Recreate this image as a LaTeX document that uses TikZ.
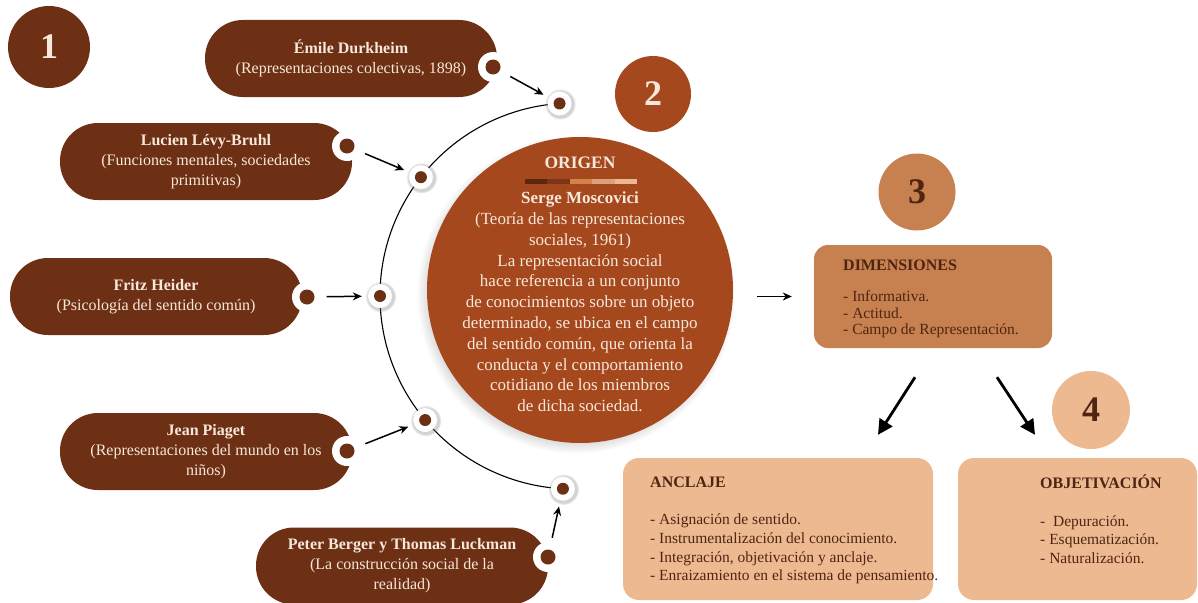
\documentclass[tikz,border=0pt]{standalone}
\usepackage{fontspec}
\setmainfont{Liberation Serif}
\usetikzlibrary{shadows,calc,arrows.meta}
\definecolor{dbrown}{HTML}{6E3014}
\definecolor{rust}{HTML}{A5481E}
\definecolor{midor}{HTML}{C7804F}
\definecolor{lightor}{HTML}{EDB991}
\definecolor{cream}{HTML}{F6E8DA}
\definecolor{darktxt}{HTML}{4F2512}
\definecolor{barA}{HTML}{5A2810}
\definecolor{barB}{HTML}{7E3517}
\definecolor{barC}{HTML}{D4824C}
\definecolor{barD}{HTML}{DDA07C}
\definecolor{barE}{HTML}{EBB892}
\begin{document}
\begin{tikzpicture}[x=1pt,y=-1pt,
  pill/.style={fill=dbrown, rounded corners=38pt, minimum width=292pt, minimum height=77pt,
     text=cream, align=center, inner sep=0pt, font=\fontsize{16}{20}\selectfont},
  notch/.style={circle, fill=white, minimum size=30pt, inner sep=0pt},
  pdot/.style={circle, fill=dbrown, minimum size=15pt, inner sep=0pt},
  adot/.style={circle, fill=white, minimum size=24pt, inner sep=0pt,
     circular drop shadow={shadow xshift=0.5pt, shadow yshift=-0.5pt, shadow scale=1.3, opacity=0.35}},
  adotin/.style={circle, fill=dbrown, minimum size=12pt, inner sep=0pt},
  numc/.style={circle, inner sep=0pt, font=\fontsize{36}{36}\selectfont\bfseries},
  arr/.style={-{Stealth[length=9pt,width=8pt]}, line width=1.5pt, shorten <=12pt, shorten >=6pt},
  bigarr/.style={-{Triangle[length=15pt,width=15pt]}, line width=2.8pt},
  ltbox/.style={fill=lightor, rounded corners=16pt},
  boxtitle/.style={anchor=west, inner sep=0pt, text=darktxt, font=\fontsize{16}{19}\selectfont\bfseries},
  boxlist/.style={anchor=west, inner sep=0pt, align=left, text=darktxt},
]
\useasboundingbox (0,0) rectangle (1198,602);

% number circles
\node[numc, fill=dbrown, minimum size=82pt, text=cream] (n1) at (49,47) {1};
\node[numc, fill=rust, minimum size=76pt, text=cream] (n2) at (653,94) {2};
\node[numc, fill=midor, minimum size=77pt, text=darktxt] (n3) at (917,192) {3};
\node[numc, fill=lightor, minimum size=78pt, text=darktxt] (n4) at (1091,410) {4};

% central circle
\node[circle, fill=rust, minimum size=306pt, inner sep=0pt,
  circular drop shadow={shadow xshift=-4pt, shadow yshift=-4pt, shadow scale=1.04, opacity=0.55}] (origen) at (580,290) {};
\node[text=cream, font=\fontsize{17.5}{20}\selectfont\bfseries] (ot) at (580,163) {ORIGEN};
\fill[barA] (525,179) rectangle (547.4,183.5);
\fill[barB] (547.4,179) rectangle (569.8,183.5);
\fill[barC] (569.8,179) rectangle (592.2,183.5);
\fill[barD] (592.2,179) rectangle (614.6,183.5);
\fill[barE] (614.6,179) rectangle (637,183.5);
\node[text=cream, align=center, font=\fontsize{17}{20.8}\selectfont] (ob) at (580,302)
 {\textbf{Serge Moscovici}\\(Teoría de las representaciones\\sociales, 1961)\\La representación social\\hace referencia a un conjunto\\de conocimientos sobre un objeto\\determinado, se ubica en el campo\\del sentido común, que orienta la\\conducta y el comportamiento\\cotidiano de los miembros\\de dicha sociedad.};

% arc
\coordinate (C) at (573,296);
\draw[line width=1.1pt] ($(C)+(266:193)$) arc[start angle=266, end angle=93, radius=193];
\foreach \i/\a in {1/266, 2/218, 3/180, 4/140, 5/93} {
  \node[adot] (ad\i) at ($(C)+(\a:193)$) {};
  \node[adotin] at (ad\i) {};
}

% pills
\node[pill] (p1) at (351,58.5) {\textbf{Émile Durkheim}\\(Representaciones colectivas, 1898)};
\node[notch] at (493,67) {};
\node[pdot] (pd1) at (493,67) {};

\node[pill] (p2) at (206,161.5) {\textbf{Lucien Lévy-Bruhl}\\(Funciones mentales, sociedades\\primitivas)};
\node[notch] at (347,146) {};
\node[pdot] (pd2) at (347,146) {};

\node[pill] (p3) at (156,296.5) {\textbf{Fritz Heider}\\(Psicología del sentido común)};
\node[notch] at (307,297) {};
\node[pdot] (pd3) at (307,297) {};

\node[pill] (p4) at (206,451.5) {\textbf{Jean Piaget}\\(Representaciones del mundo en los\\niños)};
\node[notch] at (347,451) {};
\node[pdot] (pd4) at (347,451) {};

\node[pill] (p5) at (402,566) {\textbf{Peter Berger y Thomas Luckman}\\(La construcción social de la\\realidad)};
\node[notch] at (548,557) {};
\node[pdot] (pd5) at (548,557) {};

% arrows to arc
\draw[arr] (pd1) -- (ad1);
\draw[arr] (pd2) -- (ad2);
\draw[arr] (pd3) -- (ad3);
\draw[arr] (pd4) -- (ad4);
\draw[arr] (pd5) -- (ad5);

% dimensiones
\node[fill=midor, rounded corners=14pt, minimum width=238pt, minimum height=103pt] (dim) at (933,296.5) {};
\node[boxtitle] (dimt) at (843,265) {DIMENSIONES};
\node[boxlist, font=\fontsize{15.5}{16.6}\selectfont] (diml) at (843,314.5)
 {- Informativa.\\- Actitud.\\- Campo de Representación.};

\draw[arr, shorten <=24pt, shorten >=22pt] (dim.west -| origen.east) -- (dim.west);

% anclaje / objetivacion
\node[ltbox, minimum width=310pt, minimum height=142pt] (ancl) at (778,529) {};
\node[boxtitle] (anct) at (650,482) {ANCLAJE};
\node[boxlist, font=\fontsize{15.5}{18.7}\selectfont] (ancll) at (650,549)
 {- Asignación de sentido.\\- Instrumentalización del conocimiento.\\- Integración, objetivación y anclaje.\\- Enraizamiento en el sistema de pensamiento.};

\node[ltbox, minimum width=239pt, minimum height=142pt] (obj) at (1077.5,529) {};
\node[boxtitle] (objt) at (1040,482) {OBJETIVACIÓN};
\node[boxlist, font=\fontsize{15.5}{18.7}\selectfont] (objl) at (1040,539.5)
 {-\ \ Depuración.\\- Esquematización.\\- Naturalización.};

\draw[bigarr] ($(dim.south)+(-18,29)$) -- ($(ancl.north)+(100,-23)$);
\draw[bigarr] ($(dim.south)+(64,29)$) -- ($(obj.north)+(-42.5,-23)$);
\end{tikzpicture}
\end{document}
